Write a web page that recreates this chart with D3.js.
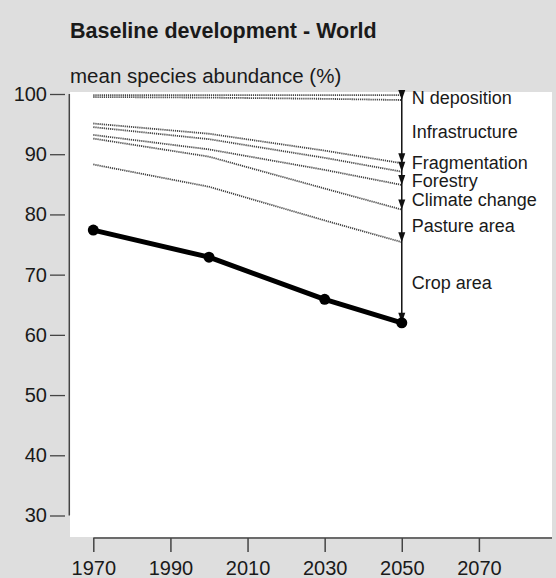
<!DOCTYPE html>
<html>
<head>
<meta charset="utf-8">
<script src="https://cdn.jsdelivr.net/npm/d3@7"></script>
<style>
  html, body { margin: 0; padding: 0; background: #dedede; }
  svg { display: block; font-family: "Liberation Sans", Arial, Helvetica, sans-serif; }
</style>
</head>
<body>
<div id="chart"></div>
<script>
// Baseline development - World : mean species abundance by pressure
const years = [1970, 2000, 2030, 2050];
const xTicks = [1970, 1990, 2010, 2030, 2050, 2070];
const yTicks = [30, 40, 50, 60, 70, 80, 90, 100];

// remaining MSA after each pressure is taken off (top to bottom)
const msaPristine = [99.8, 99.8, 99.8, 99.8];
const msaNDeposition = [99.5, 99.4, 99.2, 99.0];
const msaInfrastructure = [95.1, 93.4, 90.6, 88.5];
const msaFragmentation = [94.5, 92.5, 89.4, 87.1];
const msaForestry = [93.2, 90.8, 87.4, 84.9];
const msaClimateChange = [92.6, 89.6, 84.3, 80.8];
const msaPasture = [88.3, 84.6, 79.0, 75.4];
const msaCrop = [77.4, 72.9, 65.9, 62.0];

const pressureLabels = ['N deposition', 'Infrastructure', 'Fragmentation', 'Forestry',
    'Climate change', 'Pasture area', 'Crop area'];
const levels = [msaPristine, msaNDeposition, msaInfrastructure, msaFragmentation,
    msaForestry, msaClimateChange, msaPasture, msaCrop];

const width = 556, height = 578;
const ink = '#1a1a1a';

const svg = d3.select('#chart')
    .append('svg')
    .attr('width', width)
    .attr('height', height);

svg.append('rect')
    .attr('width', width)
    .attr('height', height)
    .attr('fill', '#dedede');

const x = d3.scaleLinear().domain([1970, 2070]).range([93.3, 478.9]);
const y = d3.scaleLinear().domain([30, 100]).range([515.5, 94]);

// white plot panel
svg.append('rect')
    .attr('x', 70)
    .attr('y', 92)
    .attr('width', 552 - 70)
    .attr('height', 537 - 92)
    .attr('fill', '#ffffff');

// title + axis title
svg.append('text')
    .attr('x', 70)
    .attr('y', 38)
    .attr('font-size', '21.5px')
    .attr('font-weight', 'bold')
    .attr('fill', ink)
    .text('Baseline development - World');

svg.append('text')
    .attr('x', 70)
    .attr('y', 83)
    .attr('font-size', '20.5px')
    .attr('fill', ink)
    .text('mean species abundance (%)');

// y axis
const yAxis = svg.append('g')
    .attr('transform', 'translate(65,0)')
    .call(d3.axisLeft(y).tickValues(yTicks).tickSize(15).tickPadding(3).tickFormat(d3.format('d')));
yAxis.select('.domain').remove();
yAxis.selectAll('line').attr('stroke', '#444').attr('stroke-width', 1.3);
yAxis.selectAll('text')
    .attr('font-size', '20px')
    .attr('fill', ink)
    .attr('font-family', '"Liberation Sans", Arial, sans-serif');

svg.append('line')
    .attr('x1', 69.3).attr('x2', 69.3)
    .attr('y1', y(100)).attr('y2', y(30))
    .attr('stroke', '#444')
    .attr('stroke-width', 1.5);

// x axis
const xAxis = svg.append('g')
    .attr('transform', 'translate(0,538)')
    .call(d3.axisBottom(x).tickValues(xTicks).tickSize(14).tickPadding(9).tickFormat(d3.format('d')));
xAxis.select('.domain').remove();
xAxis.selectAll('line').attr('stroke', '#444').attr('stroke-width', 1.5);
xAxis.selectAll('text')
    .attr('font-size', '20px')
    .attr('fill', ink)
    .attr('font-family', '"Liberation Sans", Arial, sans-serif');

svg.append('line')
    .attr('x1', x(1970)).attr('x2', 552)
    .attr('y1', 538).attr('y2', 538)
    .attr('stroke', '#444')
    .attr('stroke-width', 1.5);

const line = d3.line()
    .x((d, i) => x(years[i]))
    .y(d => y(d));

// dotted pressure lines
svg.append('g')
    .selectAll('path')
    .data(levels.slice(0, -1))
    .enter()
    .append('path')
    .attr('d', line)
    .attr('fill', 'none')
    .attr('stroke', '#444')
    .attr('stroke-width', 1.8)
    .attr('stroke-dasharray', '1.2,0.9');

// vertical bar at 2050 with arrows down to each level
const xEnd = x(2050);
const last = years.length - 1;
const arrowH = 10, arrowW = 3.5;

svg.append('line')
    .attr('x1', xEnd).attr('x2', xEnd)
    .attr('y1', y(msaNDeposition[last]) - arrowH)
    .attr('y2', y(msaCrop[last]))
    .attr('stroke', '#111')
    .attr('stroke-width', 1.5);

svg.append('g')
    .selectAll('path')
    .data(levels.slice(1))
    .enter()
    .append('path')
    .attr('d', d => {
        const ty = y(d[last]);
        return `M${xEnd - arrowW},${ty - arrowH}L${xEnd + arrowW},${ty - arrowH}L${xEnd},${ty}Z`;
    })
    .attr('fill', '#111');

// crop area line (resulting MSA)
svg.append('path')
    .datum(msaCrop)
    .attr('d', line)
    .attr('fill', 'none')
    .attr('stroke', '#000')
    .attr('stroke-width', 5)
    .attr('stroke-linejoin', 'round');

svg.append('g')
    .selectAll('circle')
    .data(msaCrop)
    .enter()
    .append('circle')
    .attr('cx', (d, i) => x(years[i]))
    .attr('cy', d => y(d))
    .attr('r', 5.5)
    .attr('fill', '#000');

// labels, centred on each band and pushed apart when too close
const labelPos = pressureLabels.map((name, i) => ({
    name,
    y: (y(levels[i][last]) + y(levels[i + 1][last])) / 2
}));
const minGap = 18.3;
for (let k = 0; k < 50; k++) {
    for (let i = 0; i < labelPos.length - 1; i++) {
        const gap = labelPos[i + 1].y - labelPos[i].y;
        if (gap < minGap) {
            const push = (minGap - gap) / 2;
            labelPos[i].y -= push;
            labelPos[i + 1].y += push;
        }
    }
}

svg.append('g')
    .selectAll('text')
    .data(labelPos)
    .enter()
    .append('text')
    .attr('x', xEnd + 10)
    .attr('y', d => d.y)
    .attr('dy', '0.35em')
    .attr('font-size', '18px')
    .attr('fill', ink)
    .text(d => d.name);
</script>
</body>
</html>
